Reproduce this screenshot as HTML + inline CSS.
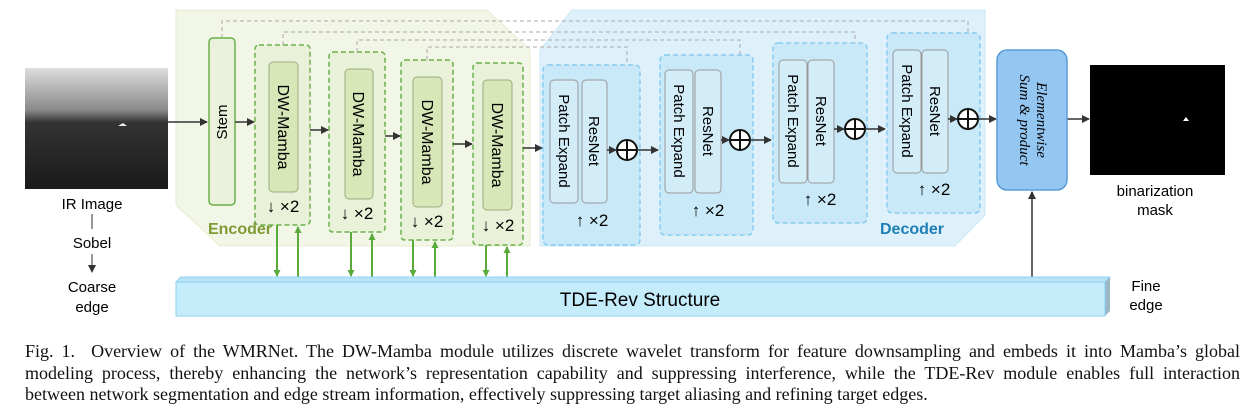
<!DOCTYPE html>
<html><head><meta charset="utf-8"><style>
body{margin:0;background:#fff;width:1260px;height:414px;overflow:hidden;position:relative}
svg{position:absolute;left:0;top:0}
.cap{position:absolute;left:25px;top:341px;width:1215px;font-family:"Liberation Serif",serif;font-size:18px;line-height:21.5px;color:#111;white-space:nowrap}
.cap div{text-align:justify;text-align-last:justify}
.cap div.l{text-align-last:left}
</style></head><body>
<svg width="1260" height="340" viewBox="0 0 1260 340" font-family="Liberation Sans, DejaVu Sans, sans-serif">
<defs>
<marker id="ak" markerWidth="8" markerHeight="8" refX="7" refY="4" orient="auto" markerUnits="userSpaceOnUse"><path d="M0,0 L8,4 L0,8 z" fill="#333"/></marker>
<marker id="ag" markerWidth="7" markerHeight="7" refX="6" refY="3.5" orient="auto" markerUnits="userSpaceOnUse"><path d="M0,0 L7,3.5 L0,7 z" fill="#5aab3c"/></marker>
<marker id="ay" markerWidth="6" markerHeight="6" refX="5" refY="3" orient="auto" markerUnits="userSpaceOnUse"><path d="M0,0 L6,3 L0,6 z" fill="#aaa"/></marker>
<linearGradient id="ir" x1="0" y1="0" x2="0" y2="1"><stop offset="0" stop-color="#ddd"/><stop offset="0.35" stop-color="#888"/><stop offset="0.45" stop-color="#333"/><stop offset="1" stop-color="#1a1a1a"/></linearGradient>
</defs>
<path d="M176,10 L487,10 L530,50 L530,246 L220,246 L176,205 Z" fill="#f2f6e6" stroke="#e6edd3"/>
<path d="M572,10 L985,10 L985,215 L955,246 L540,246 L540,50 Z" fill="#def1fa" stroke="#c8e8f7"/>
<rect x="25" y="68" width="143" height="121" fill="url(#ir)"/>
<path d="M118,126 l5,-3 l4,3 z" fill="#eee"/>
<text x="92" y="209" font-size="15" text-anchor="middle">IR Image</text>
<line x1="92" y1="214" x2="92" y2="229" stroke="#333"/>
<text x="92" y="248" font-size="15" text-anchor="middle">Sobel</text>
<line x1="92" y1="254" x2="92" y2="272" stroke="#333" marker-end="url(#ak)"/>
<text x="92" y="292" font-size="15" text-anchor="middle">Coarse</text>
<text x="92" y="312" font-size="15" text-anchor="middle">edge</text>
<g fill="none" stroke="#aaa" stroke-dasharray="4,3">
<path d="M222,38 V21 H968 V112" marker-end="url(#ay)"/>
<path d="M283,45 V32 H855 V122" marker-end="url(#ay)"/>
<path d="M357,52 V40 H740 V133" marker-end="url(#ay)"/>
<path d="M427,60 V47 H627 V142" marker-end="url(#ay)"/>
</g>
<rect x="209" y="38" width="26" height="167" rx="4" fill="#eaf2dc" stroke="#6bb04a" stroke-width="1.5"/>
<text transform="translate(227,122) rotate(-90)" font-size="15" text-anchor="middle">Stem</text>
<line x1="168" y1="122" x2="207" y2="122" stroke="#333" stroke-width="1.5" marker-end="url(#ak)"/>
<line x1="235" y1="122" x2="254" y2="122" stroke="#333" stroke-width="1.5" marker-end="url(#ak)"/>
<g stroke="#6bb04a" stroke-width="1.5" stroke-dasharray="5,3" fill="#e9f1d8">
<rect x="255" y="45" width="55" height="180" rx="4"/>
<rect x="329" y="52" width="56" height="180" rx="4"/>
<rect x="401" y="60" width="52" height="180" rx="4"/>
<rect x="473" y="63" width="50" height="182" rx="4"/>
</g>
<g fill="#d8e7b8" stroke="#9aab80">
<rect x="269" y="62" width="29" height="130" rx="4"/>
<rect x="345" y="69" width="28" height="130" rx="4"/>
<rect x="413" y="77" width="29" height="130" rx="4"/>
<rect x="483" y="80" width="29" height="130" rx="4"/>
</g>
<g font-size="16" text-anchor="middle">
<text transform="translate(278,127) rotate(90)">DW-Mamba</text>
<text transform="translate(353,134) rotate(90)">DW-Mamba</text>
<text transform="translate(422,142) rotate(90)">DW-Mamba</text>
<text transform="translate(492,145) rotate(90)">DW-Mamba</text>
<text x="283" y="212" font-size="17">↓ ×2</text>
<text x="357" y="219" font-size="17">↓ ×2</text>
<text x="427" y="227" font-size="17">↓ ×2</text>
<text x="498" y="231" font-size="17">↓ ×2</text>
</g>
<g stroke="#333" stroke-width="1.5">
<line x1="310" y1="130" x2="328" y2="130" marker-end="url(#ak)"/>
<line x1="385" y1="136" x2="400" y2="136" marker-end="url(#ak)"/>
<line x1="453" y1="144" x2="472" y2="144" marker-end="url(#ak)"/>
<line x1="523" y1="148" x2="542" y2="148" marker-end="url(#ak)"/>
</g>
<text x="240" y="234" font-size="16" font-weight="bold" fill="#7f9a35" text-anchor="middle">Encoder</text>
<g stroke="#5aab3c" stroke-width="2">
<line x1="277" y1="225" x2="277" y2="276" marker-end="url(#ag)"/><line x1="298" y1="278" x2="298" y2="227" marker-end="url(#ag)"/>
<line x1="351" y1="232" x2="351" y2="276" marker-end="url(#ag)"/><line x1="372" y1="278" x2="372" y2="234" marker-end="url(#ag)"/>
<line x1="413" y1="240" x2="413" y2="276" marker-end="url(#ag)"/><line x1="435" y1="278" x2="435" y2="242" marker-end="url(#ag)"/>
<line x1="486" y1="245" x2="486" y2="276" marker-end="url(#ag)"/><line x1="507" y1="278" x2="507" y2="247" marker-end="url(#ag)"/>
</g>
<g stroke="#7cc6ee" stroke-width="1.3" stroke-dasharray="5,3" fill="#c9e9f8">
<rect x="543" y="65" width="97" height="180" rx="5"/>
<rect x="660" y="55" width="93" height="180" rx="5"/>
<rect x="773" y="43" width="94" height="180" rx="5"/>
<rect x="887" y="33" width="93" height="180" rx="5"/>
</g>
<g fill="#d2ecf8" stroke="#999">
<rect x="550" y="80" width="28" height="123" rx="4"/><rect x="582" y="80" width="25" height="123" rx="4"/>
<rect x="665" y="70" width="28" height="123" rx="4"/><rect x="695" y="70" width="26" height="123" rx="4"/>
<rect x="779" y="60" width="28" height="123" rx="4"/><rect x="808" y="60" width="26" height="123" rx="4"/>
<rect x="893" y="50" width="28" height="123" rx="4"/><rect x="922" y="50" width="26" height="123" rx="4"/>
</g>
<g font-size="15" text-anchor="middle">
<text transform="translate(559,141) rotate(90)">Patch Expand</text>
<text transform="translate(589,141) rotate(90)">ResNet</text>
<text transform="translate(674,131) rotate(90)">Patch Expand</text>
<text transform="translate(703,131) rotate(90)">ResNet</text>
<text transform="translate(788,121) rotate(90)">Patch Expand</text>
<text transform="translate(816,121) rotate(90)">ResNet</text>
<text transform="translate(902,111) rotate(90)">Patch Expand</text>
<text transform="translate(930,111) rotate(90)">ResNet</text>
<text x="592" y="226" font-size="17">↑ ×2</text>
<text x="708" y="216" font-size="17">↑ ×2</text>
<text x="820" y="205" font-size="17">↑ ×2</text>
<text x="934" y="195" font-size="17">↑ ×2</text>
</g>
<g stroke="#111" stroke-width="2" fill="#fff">
<circle cx="627" cy="150" r="10"/><path d="M617,150 H637 M627,140 V160"/>
<circle cx="740" cy="140" r="10"/><path d="M730,140 H750 M740,130 V150"/>
<circle cx="855" cy="129" r="10"/><path d="M845,129 H865 M855,119 V139"/>
<circle cx="968" cy="119" r="10"/><path d="M958,119 H978 M968,109 V129"/>
</g>
<g stroke="#333" stroke-width="1.5">
<line x1="607" y1="150" x2="616" y2="150" marker-end="url(#ak)"/>
<line x1="637" y1="150" x2="658" y2="150" marker-end="url(#ak)"/>
<line x1="721" y1="140" x2="729" y2="140" marker-end="url(#ak)"/>
<line x1="750" y1="140" x2="771" y2="140" marker-end="url(#ak)"/>
<line x1="834" y1="129" x2="844" y2="129" marker-end="url(#ak)"/>
<line x1="865" y1="129" x2="885" y2="129" marker-end="url(#ak)"/>
<line x1="948" y1="119" x2="957" y2="119" marker-end="url(#ak)"/>
<line x1="978" y1="119" x2="996" y2="119" marker-end="url(#ak)"/>
<line x1="1067" y1="119" x2="1089" y2="119" marker-end="url(#ak)"/>
<line x1="1032" y1="277" x2="1032" y2="192" marker-end="url(#ak)"/>
</g>
<text x="912" y="234" font-size="16" font-weight="bold" fill="#1e7fb5" text-anchor="middle">Decoder</text>
<rect x="997" y="50" width="70" height="140" rx="10" fill="#94c6f2" stroke="#5b9cd9" stroke-width="1.5"/>
<g font-family="Liberation Serif, serif" font-style="italic" font-size="15" text-anchor="middle">
<text transform="translate(1037,120) rotate(90)">Elementwise</text>
<text transform="translate(1020,120) rotate(90)">Sum &amp; product</text>
</g>
<rect x="1090" y="65" width="135" height="110" fill="#000"/>
<path d="M1183,121 l3,-4 l3,4 z" fill="#fff"/>
<text x="1155" y="196" font-size="15" text-anchor="middle">binarization</text>
<text x="1155" y="215" font-size="15" text-anchor="middle">mask</text>
<path d="M176,282 L181,277 L1110,277 L1105,282 Z" fill="#b8e4f7" stroke="#8fd0f0"/>
<path d="M1105,282 L1110,277 L1110,311 L1105,316 Z" fill="#9ab8c8"/>
<rect x="176" y="282" width="929" height="34" fill="#c5ecfb" stroke="#8fd0f0"/>
<text x="640" y="306" font-size="19" text-anchor="middle">TDE-Rev Structure</text>
<text x="1146" y="291" font-size="15" text-anchor="middle">Fine</text>
<text x="1146" y="310" font-size="15" text-anchor="middle">edge</text>
</svg>
<div class="cap">
<div>Fig. 1.&nbsp; Overview of the WMRNet. The DW-Mamba module utilizes discrete wavelet transform for feature downsampling and embeds it into Mamba’s global</div>
<div>modeling process, thereby enhancing the network’s representation capability and suppressing interference, while the TDE-Rev module enables full interaction</div>
<div class="l">between network segmentation and edge stream information, effectively suppressing target aliasing and refining target edges.</div>
</div>
</body></html>
